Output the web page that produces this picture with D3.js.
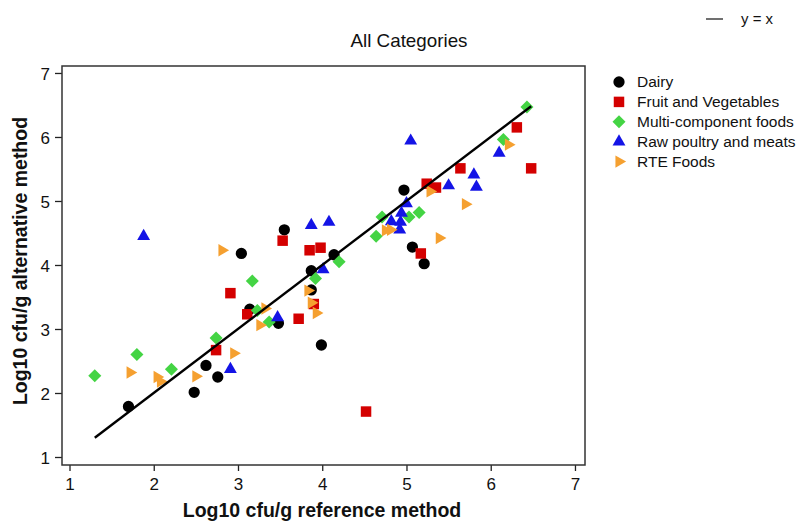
<!DOCTYPE html>
<html>
<head>
<meta charset="utf-8">
<script src="https://cdn.jsdelivr.net/npm/d3@7"></script>
<style>
  body { margin: 0; background: #fff; }
  svg { display: block; font-family: "Liberation Sans", Arial, sans-serif; }
  .tick text { font-size: 17px; fill: #111; }
  .tick line { stroke: #222; stroke-width: 1.3; }
  .axis-label { font-size: 19.5px; font-weight: bold; fill: #111; }
</style>
</head>
<body>
<div id="main"></div>
<script>
// Data
const categories = ["Dairy", "Fruit and Vegetables", "Multi-component foods", "Raw poultry and meats", "RTE Foods"];

const dairy = [
  [1.70, 1.79], [2.48, 2.01], [2.62, 2.43], [2.76, 2.25], [3.04, 4.18],
  [3.14, 3.31], [3.48, 3.09], [3.55, 4.55], [3.87, 3.91], [3.87, 3.61],
  [3.99, 2.75], [4.14, 4.16], [4.97, 5.17], [5.07, 4.28], [5.21, 4.02],
];
const fruitVeg = [
  [2.74, 2.67], [2.91, 3.56], [3.11, 3.23], [3.53, 4.38], [3.72, 3.16],
  [3.85, 4.23], [3.90, 3.39], [3.98, 4.27], [4.52, 1.71], [5.17, 4.18],
  [5.24, 5.27], [5.35, 5.21], [5.64, 5.51], [6.31, 6.15], [6.48, 5.51],
];
const multiComponent = [
  [1.30, 2.27], [1.80, 2.60], [2.21, 2.37], [2.74, 2.86], [3.17, 3.75],
  [3.23, 3.29], [3.37, 3.11], [3.92, 3.79], [4.20, 4.05], [4.64, 4.45],
  [4.71, 4.75], [5.03, 4.75], [5.15, 4.82], [6.15, 5.96], [6.43, 6.47],
];
const rawPoultry = [
  [1.88, 4.45], [2.91, 2.37], [3.47, 3.18], [3.87, 4.62], [4.01, 3.93],
  [4.08, 4.67], [4.82, 4.68], [4.92, 4.55], [4.94, 4.81], [4.93, 4.67],
  [5.00, 4.96], [5.05, 5.94], [5.50, 5.24], [5.80, 5.41], [5.83, 5.22],
  [6.10, 5.75],
];
const rteFoods = [
  [1.72, 2.32], [2.04, 2.25], [2.08, 2.18], [2.50, 2.26], [2.81, 4.23],
  [2.95, 2.62], [3.26, 3.06], [3.32, 3.32], [3.83, 3.60], [3.87, 3.41],
  [3.93, 3.25], [4.75, 4.54], [4.81, 4.55], [5.28, 5.15], [5.39, 4.42],
  [5.70, 4.95], [6.21, 5.88],
];

const seriesValues = [dairy, fruitVeg, multiComponent, rawPoultry, rteFoods];
const xTicks = [1, 2, 3, 4, 5, 6, 7];
const yTicks = [1, 2, 3, 4, 5, 6, 7];

// Styles
const colors = ["#000000", "#d40000", "#44d444", "#1414e6", "#f5a030"];
const symbols = [
  { type: d3.symbolCircle, size: 100, rotate: 0 },
  { type: d3.symbolSquare, size: 110, rotate: 0 },
  { type: d3.symbolSquare, size: 85, rotate: 45 },
  { type: d3.symbolTriangle, size: 72, rotate: 0 },
  { type: d3.symbolTriangle, size: 66, rotate: 90 },
];

// Layout
const width = 798;
const height = 522;
const frame = { left: 62, right: 585, top: 66, bottom: 465 };

const svg = d3.select("#main").append("svg")
  .attr("width", width)
  .attr("height", height);

const x = d3.scaleLinear().domain([0.911, 7.119]).range([frame.left, frame.right]);
const y = d3.scaleLinear().domain([0.875, 7.109]).range([frame.bottom, frame.top]);

// Axes
const xg = svg.append("g")
  .attr("transform", `translate(0,${frame.bottom})`)
  .call(d3.axisBottom(x).tickValues(xTicks).tickSize(6).tickPadding(7).tickFormat(d3.format("d")));
xg.select(".domain").remove();

const yg = svg.append("g")
  .attr("transform", `translate(${frame.left},0)`)
  .call(d3.axisLeft(y).tickValues(yTicks).tickSize(7).tickPadding(5).tickFormat(d3.format("d")));
yg.select(".domain").remove();
yg.selectAll(".tick text").attr("dy", "0.36em");

// Frame
svg.append("rect")
  .attr("x", frame.left)
  .attr("y", frame.top)
  .attr("width", frame.right - frame.left)
  .attr("height", frame.bottom - frame.top)
  .attr("fill", "none")
  .attr("stroke", "#333")
  .attr("stroke-width", 1.5);

// Axis labels
svg.append("text")
  .attr("class", "axis-label")
  .attr("text-anchor", "middle")
  .attr("x", 322)
  .attr("y", 517)
  .text("Log10 cfu/g reference method");

svg.append("text")
  .attr("class", "axis-label")
  .attr("text-anchor", "middle")
  .attr("transform", "translate(27,261) rotate(-90)")
  .text("Log10 cfu/g alternative method");

// Title (condensed look)
svg.append("text")
  .attr("text-anchor", "middle")
  .attr("x", 409)
  .attr("y", 47)
  .attr("font-size", 19)
  .attr("textLength", 117)
  .attr("lengthAdjust", "spacingAndGlyphs")
  .attr("fill", "#111")
  .text("All Categories");

// Points
const pts = svg.append("g");
seriesValues.forEach((vals, i) => {
  const sym = d3.symbol().type(symbols[i].type).size(symbols[i].size);
  pts.append("g")
    .selectAll("path")
    .data(vals)
    .join("path")
    .attr("d", sym)
    .attr("fill", colors[i])
    .attr("transform", (d) => `translate(${x(d[0])},${y(d[1])}) rotate(${symbols[i].rotate})`);
});

// y = x line across the data range
const allX = seriesValues.flat().map((d) => d[0]);
const lineExt = d3.extent(allX);
svg.append("path")
  .datum(lineExt)
  .attr("fill", "none")
  .attr("stroke", "#000")
  .attr("stroke-width", 2.4)
  .attr("d", (d) => d3.line().x((v) => x(v)).y((v) => y(v))(d));

// Legend
const legend = svg.append("g").attr("transform", "translate(619,82)");
categories.forEach((name, i) => {
  const row = legend.append("g").attr("transform", `translate(0,${i * 19.9})`);
  row.append("path")
    .attr("d", d3.symbol().type(symbols[i].type).size(symbols[i].size)())
    .attr("fill", colors[i])
    .attr("transform", `rotate(${symbols[i].rotate})`);
  row.append("text")
    .attr("x", 18)
    .attr("dy", "0.35em")
    .attr("font-size", 15.5)
    .attr("fill", "#111")
    .text(name);
});

// y = x key
svg.append("line")
  .attr("x1", 706).attr("x2", 723)
  .attr("y1", 19).attr("y2", 19)
  .attr("stroke", "#333")
  .attr("stroke-width", 1.4);
svg.append("text")
  .attr("x", 741)
  .attr("y", 19)
  .attr("dy", "0.35em")
  .attr("font-size", 14)
  .attr("textLength", 32)
  .attr("lengthAdjust", "spacingAndGlyphs")
  .attr("fill", "#111")
  .text("y = x");
</script>
</body>
</html>
